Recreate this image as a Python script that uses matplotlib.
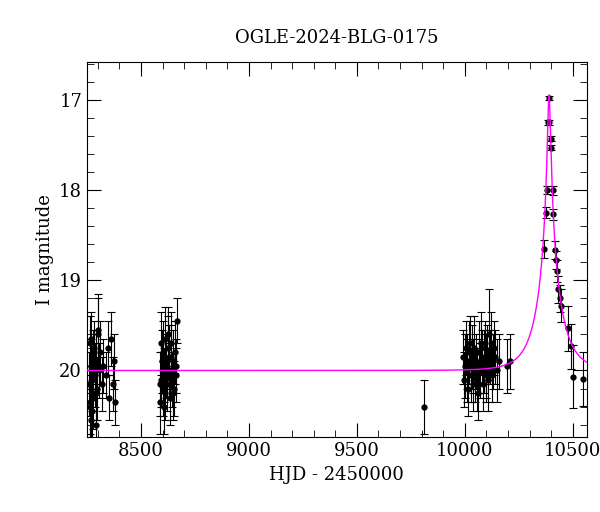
import numpy as np
import matplotlib.pyplot as plt
from matplotlib.ticker import MultipleLocator

plt.rcParams['font.family'] = 'DejaVu Serif'

# observed photometry (HJD-2450000, I mag, error)
t_obs = [8258, 8262, 8265, 8268, 8270, 8272, 8275, 8278, 8280, 8283, 8286, 8290,
         8293, 8297, 8300, 8305, 8310, 8318, 8325, 8338, 8345, 8352, 8362, 8375, 8380,
         8268, 8290, 8300, 8372, 8262,
         8588, 8592, 8595, 8598, 8600, 8603, 8606, 8610, 8613, 8616, 8620, 8624,
         8628, 8632, 8636, 8640, 8644, 8648, 8652, 8656, 8660, 8664, 8668, 8590, 8625,
         8650, 8605, 8640,
         9810,
         9992, 9996, 10000, 10004, 10008, 10012, 10016, 10020, 10024, 10028, 10032,
         10036, 10040, 10044, 10048, 10052, 10056, 10060, 10064, 10068, 10072, 10076,
         10080, 10084, 10088, 10092, 10096, 10100, 10104, 10108, 10112, 10116, 10120,
         10124, 10130, 10136, 10142, 10150, 10158, 10195, 10210,
         10366, 10375, 10380, 10384, 10389, 10392, 10398, 10400, 10408, 10410,
         10417, 10421, 10426, 10431, 10440, 10445, 10477, 10491, 10500, 10546]
mag_obs = [20.15, 19.70, 20.35, 19.95, 19.65, 20.45, 20.10, 19.85, 20.30, 19.75, 20.05, 20.25,
           19.90, 20.20, 19.60, 20.00, 19.80, 20.15, 19.95, 20.05, 19.75, 20.30, 19.65, 19.90, 20.35,
           20.55, 20.60, 19.55, 20.15, 20.40,
           20.35, 19.70, 20.10, 19.90, 20.20, 19.80, 20.05, 19.65, 20.25, 19.95, 20.15, 19.75,
           20.00, 19.85, 20.30, 19.70, 20.10, 19.90, 20.20, 19.80, 20.05, 19.95, 19.45, 20.15, 19.60,
           20.25, 20.40, 19.85,
           20.40,
           19.85, 20.10, 19.95, 19.75, 20.00, 19.90, 20.20, 19.80, 19.70, 20.05, 19.85,
           19.95, 20.15, 19.75, 20.05, 19.90, 20.10, 20.25, 19.80, 19.95, 20.00, 19.70,
           19.85, 20.15, 19.90, 19.75, 20.05, 19.95, 19.80, 20.10, 19.60, 19.85, 19.70,
           20.05, 19.90, 19.75, 19.85, 20.00, 19.90, 19.95, 19.90,
           18.65, 18.25, 18.00, 17.25, 16.98, 17.25, 17.43, 17.53, 18.00, 18.27,
           18.66, 18.78, 18.90, 19.10, 19.20, 19.28, 19.53, 19.73, 20.07, 20.09]
err_obs = [0.35, 0.30, 0.35, 0.30, 0.30, 0.35, 0.35, 0.30, 0.35, 0.30, 0.35, 0.30,
           0.30, 0.35, 0.40, 0.30, 0.35, 0.30, 0.30, 0.25, 0.30, 0.25, 0.30, 0.30, 0.25,
           0.35, 0.35, 0.40, 0.30, 0.35,
           0.35, 0.35, 0.30, 0.35, 0.30, 0.35, 0.30, 0.35, 0.30, 0.35, 0.30, 0.35,
           0.30, 0.35, 0.30, 0.35, 0.30, 0.35, 0.30, 0.35, 0.30, 0.30, 0.25, 0.35, 0.30,
           0.30, 0.30, 0.35,
           0.30,
           0.30, 0.30, 0.35, 0.30, 0.35, 0.30, 0.30, 0.35, 0.30, 0.30, 0.35,
           0.30, 0.30, 0.35, 0.30, 0.30, 0.35, 0.30, 0.35, 0.30, 0.30, 0.35,
           0.30, 0.30, 0.35, 0.30, 0.30, 0.35, 0.30, 0.35, 0.50, 0.30, 0.35,
           0.30, 0.30, 0.30, 0.30, 0.35, 0.30, 0.30, 0.30,
           0.10, 0.06, 0.04, 0.03, 0.02, 0.03, 0.03, 0.03, 0.05, 0.06,
           0.10, 0.10, 0.12, 0.15, 0.15, 0.18, 0.25, 0.25, 0.35, 0.30]

# point-lens model parameters
t0, tE, u0, I_base = 10390.0, 100.0, 0.06, 20.0

t_mod = np.linspace(8240, 10580, 4000)
u = np.sqrt(u0**2 + ((t_mod - t0) / tE)**2)
A = (u**2 + 2) / (u * np.sqrt(u**2 + 4))
mag_mod = I_base - 2.5 * np.log10(A)

fig = plt.figure(figsize=(6, 5.12), dpi=100)
ax = fig.add_axes([0.145, 0.146, 0.833, 0.733])
ax.plot(t_mod, mag_mod, color='#ff00ff', lw=1, zorder=3)
ax.errorbar(t_obs, mag_obs, yerr=err_obs, fmt='o', color='black', ms=3.5,
            elinewidth=0.8, capsize=3, capthick=0.8, zorder=2)

ax.set_xlim(8250, 10565)
ax.set_ylim(20.74, 16.58)
ax.xaxis.set_major_locator(MultipleLocator(500))
ax.xaxis.set_minor_locator(MultipleLocator(100))
ax.yaxis.set_major_locator(MultipleLocator(1))
ax.yaxis.set_minor_locator(MultipleLocator(0.2))
ax.tick_params(which='both', direction='in', top=True, right=True, labelsize=13)
ax.tick_params(which='major', length=10)
ax.tick_params(which='minor', length=5)
ax.set_xlabel('HJD - 2450000', fontsize=13)
ax.set_ylabel('I magnitude', fontsize=13)
ax.set_title('OGLE-2024-BLG-0175', fontsize=13, pad=14)

fig.savefig('out.png')
